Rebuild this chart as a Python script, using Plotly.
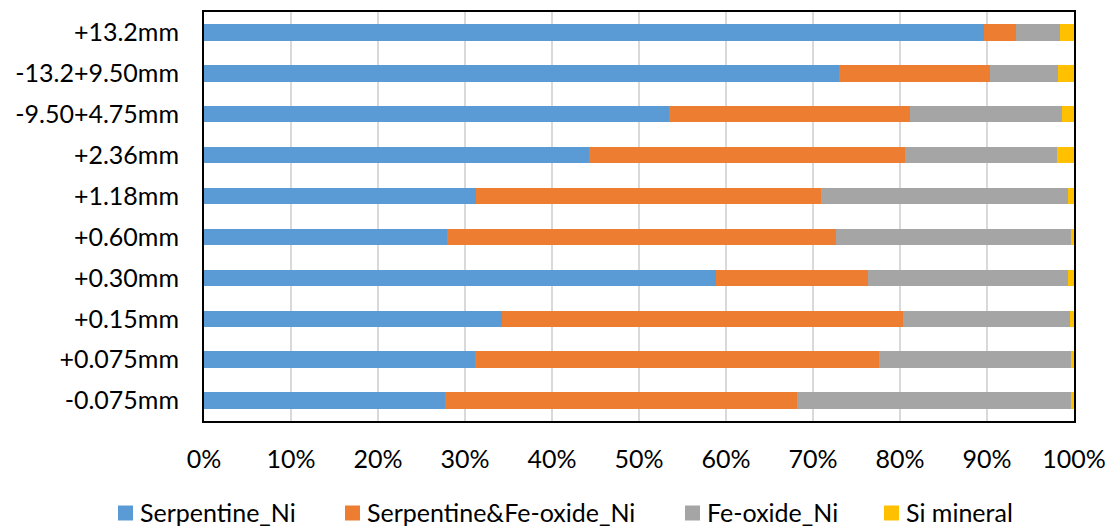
import plotly.graph_objects as go

# Size fractions, listed top to bottom
fractions = ["+13.2mm", "-13.2+9.50mm", "-9.50+4.75mm", "+2.36mm", "+1.18mm",
             "+0.60mm", "+0.30mm", "+0.15mm", "+0.075mm", "-0.075mm"]

serpentine_ni = [89.7, 73.0, 53.5, 44.3, 31.3, 27.9, 58.8, 34.2, 31.2, 27.7]
serp_fe_oxide_ni = [3.6, 17.3, 27.7, 36.3, 39.6, 44.8, 17.5, 46.1, 46.4, 40.5]
fe_oxide_ni = [5.05, 7.9, 17.4, 17.4, 28.4, 26.9, 23.0, 19.2, 22.1, 31.4]
si_mineral = [1.65, 1.8, 1.4, 2.0, 0.7, 0.4, 0.7, 0.5, 0.3, 0.4]

x_ticks = [0, 10, 20, 30, 40, 50, 60, 70, 80, 90, 100]
x_tick_labels = [f"{v}%" for v in x_ticks]

series_names = ["Serpentine_Ni", "Serpentine&Fe-oxide_Ni", "Fe-oxide_Ni", "Si mineral"]
series_values = [serpentine_ni, serp_fe_oxide_ni, fe_oxide_ni, si_mineral]
series_colors = ["#5B9BD5", "#ED7D31", "#A5A5A5", "#FFC000"]

W, H = 1111, 526
M_L, M_R, M_T, M_B = 204, 37, 12, 105
PLOT_W = W - M_L - M_R
PLOT_H = H - M_T - M_B

fig = go.Figure()
for name, vals, color in zip(series_names, series_values, series_colors):
    fig.add_trace(go.Bar(
        y=fractions, x=vals, name=name, orientation="h",
        marker=dict(color=color, line=dict(width=0)),
        showlegend=False,
    ))

font_family = "Lato, Calibri, Carlito, sans-serif"


def px_to_paper_x(px):
    return (px - M_L) / PLOT_W


def px_to_paper_y(py):
    return (H - M_B - py) / PLOT_H


# Legend row beneath the axis: square swatch followed by its label
legend_left_px = [118, 345, 685, 884]
swatch = 15
legend_cy = 513
shapes, annotations = [], []
for name, color, lx in zip(series_names, series_colors, legend_left_px):
    shapes.append(dict(
        type="rect", xref="paper", yref="paper",
        x0=px_to_paper_x(lx), x1=px_to_paper_x(lx + swatch),
        y0=px_to_paper_y(legend_cy + swatch / 2), y1=px_to_paper_y(legend_cy - swatch / 2),
        fillcolor=color, line=dict(width=0),
    ))
    annotations.append(dict(
        text=name, xref="paper", yref="paper",
        x=px_to_paper_x(lx + swatch + 5), y=px_to_paper_y(legend_cy - 1),
        xanchor="left", yanchor="middle", showarrow=False,
        font=dict(size=25, family=font_family, color="#000000"),
    ))

fig.update_layout(
    barmode="stack",
    barnorm="percent",
    bargap=0.6,
    width=W, height=H,
    margin=dict(l=M_L, r=M_R, t=M_T, b=M_B, autoexpand=False),
    paper_bgcolor="white", plot_bgcolor="white",
    font=dict(family=font_family, size=25, color="#000000"),
    xaxis=dict(
        range=[0, 100], tickvals=x_ticks, ticktext=x_tick_labels,
        showgrid=True, gridcolor="#D9D9D9", gridwidth=2,
        showline=True, linecolor="#000000", linewidth=1.5, mirror=True,
        ticks="", ticklabelstandoff=15, zeroline=False, automargin=False,
    ),
    yaxis=dict(
        categoryorder="array", categoryarray=fractions, autorange="reversed",
        showline=True, linecolor="#000000", linewidth=2, mirror=True,
        ticks="", ticklabelstandoff=18, showgrid=False, automargin=False,
    ),
    shapes=shapes,
    annotations=annotations,
    showlegend=False,
)

fig.write_html("out.html")
